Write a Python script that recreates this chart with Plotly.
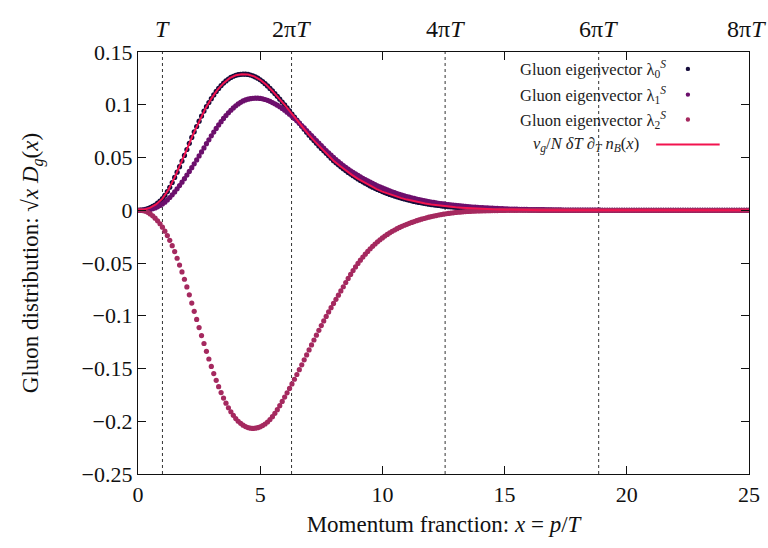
import numpy as np
import plotly.graph_objects as go

# sampling grid of the eigenvector points (x = p/T, step 0.1 from 0 to 25)
x_pts = np.round(np.arange(251) * 0.1, 1)

# Gluon eigenvector lambda_0^S
lam0 = [
    0.0000, 0.0001, 0.0004, 0.0009, 0.0016, 0.0025, 0.0036, 0.0050, 0.0067, 0.0086,
    0.0110, 0.0141, 0.0177, 0.0218, 0.0263, 0.0311, 0.0361, 0.0413, 0.0466, 0.0520,
    0.0576, 0.0634, 0.0690, 0.0743, 0.0794, 0.0844, 0.0893, 0.0940, 0.0982, 0.1021,
    0.1058, 0.1093, 0.1126, 0.1155, 0.1182, 0.1205, 0.1226, 0.1244, 0.1259, 0.1270,
    0.1279, 0.1285, 0.1288, 0.1290, 0.1290, 0.1287, 0.1282, 0.1274, 0.1264, 0.1252,
    0.1237, 0.1220, 0.1200, 0.1178, 0.1155, 0.1131, 0.1106, 0.1080, 0.1053, 0.1026,
    0.0998, 0.0970, 0.0941, 0.0912, 0.0883, 0.0854, 0.0825, 0.0796, 0.0768, 0.0740,
    0.0712, 0.0686, 0.0660, 0.0635, 0.0610, 0.0586, 0.0563, 0.0540, 0.0517, 0.0494,
    0.0470, 0.0450, 0.0431, 0.0412, 0.0394, 0.0376, 0.0359, 0.0343, 0.0327, 0.0312,
    0.0297, 0.0283, 0.0269, 0.0256, 0.0243, 0.0231, 0.0219, 0.0208, 0.0197, 0.0187,
    0.0177, 0.0168, 0.0159, 0.0150, 0.0142, 0.0134, 0.0127, 0.0120, 0.0113, 0.0107,
    0.0101, 0.0095, 0.0089, 0.0084, 0.0079, 0.0074, 0.0070, 0.0066, 0.0062, 0.0058,
    0.0054, 0.0051, 0.0048, 0.0045, 0.0042, 0.0039, 0.0037, 0.0034, 0.0032, 0.0030,
    0.0028, 0.0026, 0.0024, 0.0023, 0.0021, 0.0020, 0.0018, 0.0017, 0.0016, 0.0015,
    0.0014, 0.0013, 0.0012, 0.0011, 0.0010, 0.0009, 0.0009, 0.0008, 0.0007, 0.0007,
    0.0006, 0.0006, 0.0005, 0.0005, 0.0004, 0.0004, 0.0004, 0.0003, 0.0003, 0.0003,
    0.0002, 0.0002, 0.0002, 0.0002, 0.0001, 0.0001, 0.0001, 0.0001, 0.0001, 0.0001,
    0, 0, 0, 0, 0, 0, 0, 0, 0, 0,
    0, 0, 0, 0, 0, 0, 0, 0, 0, 0,
    0, 0, 0, 0, 0, 0, 0, 0, 0, 0,
    0, 0, 0, 0, 0, 0, 0, 0, 0, 0,
    0, 0, 0, 0, 0, 0, 0, 0, 0, 0,
    0, 0, 0, 0, 0, 0, 0, 0, 0, 0,
    0, 0, 0, 0, 0, 0, 0, 0, 0, 0,
    0, 0, 0, 0, 0, 0, 0, 0, 0, 0,
    0,
]

# Gluon eigenvector lambda_1^S
lam1 = [
    0.0000, 0.0000, 0.0001, 0.0002, 0.0004, 0.0008, 0.0014, 0.0022, 0.0032, 0.0045,
    0.0060, 0.0077, 0.0098, 0.0121, 0.0146, 0.0174, 0.0203, 0.0234, 0.0266, 0.0299,
    0.0333, 0.0368, 0.0404, 0.0440, 0.0477, 0.0515, 0.0553, 0.0591, 0.0631, 0.0668,
    0.0705, 0.0741, 0.0776, 0.0809, 0.0840, 0.0870, 0.0898, 0.0924, 0.0948, 0.0970,
    0.0990, 0.1008, 0.1023, 0.1036, 0.1046, 0.1053, 0.1058, 0.1061, 0.1062, 0.1062,
    0.1060, 0.1056, 0.1050, 0.1042, 0.1032, 0.1021, 0.1009, 0.0996, 0.0981, 0.0965,
    0.0948, 0.0930, 0.0911, 0.0891, 0.0870, 0.0848, 0.0826, 0.0803, 0.0780, 0.0756,
    0.0732, 0.0708, 0.0684, 0.0660, 0.0636, 0.0612, 0.0589, 0.0566, 0.0544, 0.0522,
    0.0501, 0.0481, 0.0461, 0.0442, 0.0424, 0.0407, 0.0390, 0.0374, 0.0359, 0.0344,
    0.0330, 0.0316, 0.0303, 0.0290, 0.0278, 0.0266, 0.0254, 0.0243, 0.0232, 0.0222,
    0.0212, 0.0202, 0.0193, 0.0184, 0.0175, 0.0167, 0.0159, 0.0151, 0.0144, 0.0137,
    0.0130, 0.0124, 0.0118, 0.0112, 0.0106, 0.0101, 0.0096, 0.0091, 0.0086, 0.0082,
    0.0078, 0.0074, 0.0070, 0.0066, 0.0063, 0.0060, 0.0057, 0.0054, 0.0051, 0.0048,
    0.0046, 0.0043, 0.0041, 0.0039, 0.0037, 0.0035, 0.0033, 0.0031, 0.0029, 0.0028,
    0.0026, 0.0025, 0.0023, 0.0022, 0.0021, 0.0020, 0.0018, 0.0017, 0.0016, 0.0015,
    0.0014, 0.0013, 0.0012, 0.0011, 0.0011, 0.0010, 0.0009, 0.0009, 0.0008, 0.0008,
    0.0007, 0.0007, 0.0006, 0.0006, 0.0005, 0.0005, 0.0005, 0.0004, 0.0004, 0.0004,
    0.0003, 0.0003, 0.0003, 0.0003, 0.0002, 0.0002, 0.0002, 0.0002, 0.0002, 0.0002,
    0.0001, 0.0001, 0.0001, 0.0001, 0.0001, 0.0001, 0.0001, 0.0001, 0.0001, 0.0001,
    0, 0, 0, 0, 0, 0, 0, 0, 0, 0,
    0, 0, 0, 0, 0, 0, 0, 0, 0, 0,
    0, 0, 0, 0, 0, 0, 0, 0, 0, 0,
    0, 0, 0, 0, 0, 0, 0, 0, 0, 0,
    0, 0, 0, 0, 0, 0, 0, 0, 0, 0,
    0, 0, 0, 0, 0, 0, 0, 0, 0, 0,
    0,
]

# Gluon eigenvector lambda_2^S
lam2 = [
    0.0000, 0.0000, -0.0003, -0.0009, -0.0020, -0.0035, -0.0053, -0.0075, -0.0100, -0.0128,
    -0.0160, -0.0198, -0.0240, -0.0285, -0.0336, -0.0392, -0.0455, -0.0520, -0.0585, -0.0654,
    -0.0727, -0.0802, -0.0880, -0.0958, -0.1035, -0.1112, -0.1188, -0.1263, -0.1337, -0.1410,
    -0.1480, -0.1548, -0.1612, -0.1672, -0.1728, -0.1780, -0.1829, -0.1872, -0.1910, -0.1944,
    -0.1975, -0.2000, -0.2020, -0.2037, -0.2050, -0.2060, -0.2066, -0.2068, -0.2066, -0.2061,
    -0.2053, -0.2041, -0.2026, -0.2007, -0.1984, -0.1957, -0.1925, -0.1890, -0.1852, -0.1812,
    -0.1771, -0.1731, -0.1689, -0.1646, -0.1602, -0.1557, -0.1511, -0.1465, -0.1418, -0.1371,
    -0.1324, -0.1277, -0.1230, -0.1184, -0.1138, -0.1093, -0.1049, -0.1006, -0.0964, -0.0923,
    -0.0883, -0.0844, -0.0805, -0.0765, -0.0725, -0.0685, -0.0646, -0.0608, -0.0572, -0.0537,
    -0.0504, -0.0473, -0.0444, -0.0416, -0.0390, -0.0365, -0.0342, -0.0320, -0.0299, -0.0280,
    -0.0262, -0.0245, -0.0229, -0.0214, -0.0200, -0.0187, -0.0175, -0.0163, -0.0152, -0.0142,
    -0.0133, -0.0124, -0.0115, -0.0107, -0.0099, -0.0092, -0.0085, -0.0078, -0.0072, -0.0066,
    -0.0060, -0.0055, -0.0050, -0.0045, -0.0041, -0.0037, -0.0033, -0.0030, -0.0027, -0.0024,
    -0.0021, -0.0019, -0.0017, -0.0015, -0.0013, -0.0011, -0.0010, -0.0009, -0.0008, -0.0007,
    -0.0006, -0.0005, -0.0005, -0.0004, -0.0004, -0.0003, -0.0003, -0.0003, -0.0002, -0.0002,
    -0.0002, -0.0001, -0.0001, -0.0001, -0.0001, -0.0001, 0, 0, 0, 0,
    0, 0, 0, 0, 0, 0, 0, 0, 0, 0,
    0, 0, 0, 0, 0, 0, 0, 0, 0, 0,
    0, 0, 0, 0, 0, 0, 0, 0, 0, 0,
    0, 0, 0, 0, 0, 0, 0, 0, 0, 0,
    0, 0, 0, 0, 0, 0, 0, 0, 0, 0,
    0, 0, 0, 0, 0, 0, 0, 0, 0, 0,
    0, 0, 0, 0, 0, 0, 0, 0, 0, 0,
    0, 0, 0, 0, 0, 0, 0, 0, 0, 0,
    0, 0, 0, 0, 0, 0, 0, 0, 0, 0,
    0,
]

# thermal reference curve (nu_g/N) dT d_T n_B(x), sampled every 0.25
x_line = np.arange(101) * 0.25
thermal = [
    0.0000, 0.0006, 0.0025, 0.0058, 0.0110, 0.0197, 0.0311, 0.0439, 0.0576, 0.0717,
    0.0844, 0.0961, 0.1058, 0.1141, 0.1205, 0.1252, 0.1279, 0.1289, 0.1287, 0.1269,
    0.1237, 0.1189, 0.1131, 0.1067, 0.0998, 0.0927, 0.0854, 0.0782, 0.0712, 0.0648,
    0.0586, 0.0529, 0.0470, 0.0422, 0.0376, 0.0335, 0.0297, 0.0263, 0.0231, 0.0203,
    0.0177, 0.0155, 0.0134, 0.0117, 0.0101, 0.0087, 0.0074, 0.0064, 0.0054, 0.0046,
    0.0039, 0.0033, 0.0028, 0.0024, 0.0020, 0.0016, 0.0014, 0.0011, 0.0009, 0.0008,
    0.0006, 0.0005, 0.0004, 0.0003, 0.0002, 0, 0, 0, 0, 0,
    0, 0, 0, 0, 0, 0, 0, 0, 0, 0,
    0, 0, 0, 0, 0, 0, 0, 0, 0, 0,
    0, 0, 0, 0, 0, 0, 0, 0, 0, 0,
    0,
]

series_names = [
    "Gluon eigenvector λ<sub>0</sub><sup><i>S</i></sup>",
    "Gluon eigenvector λ<sub>1</sub><sup><i>S</i></sup>",
    "Gluon eigenvector λ<sub>2</sub><sup><i>S</i></sup>",
]
line_name = ("<i>ν<sub>g</sub></i>/<i>N</i> <i>δT</i> ∂<sub><i>T</i></sub> "
             "<i>n<sub>B</sub></i>(<i>x</i>)")
series_colors = ["#160d3c", "#6c0f6c", "#a5295f"]
line_color = "#f2134f"

x_range = [0, 25]
x_ticks = [0, 5, 10, 15, 20, 25]
y_ticks = [0.15, 0.1, 0.05, 0, -0.05, -0.1, -0.15, -0.2, -0.25]
y_ticktext = ["0.15", "0.1", "0.05", "0", "−0.05", "−0.1", "−0.15", "−0.2", "−0.25"]
top_ticks = [1, 2 * np.pi, 4 * np.pi, 6 * np.pi, 8 * np.pi]
top_labels = ["<i>T</i>", "2π<i>T</i>", "4π<i>T</i>", "6π<i>T</i>", "8π<i>T</i>"]

FONT = "Liberation Serif"
INK = "#111111"

fig = go.Figure()
for ys, color in zip([lam0, lam1, lam2], series_colors):
    fig.add_trace(go.Scatter(
        x=x_pts, y=ys, mode="markers",
        marker=dict(size=5.2, color=color, line=dict(width=0)),
        showlegend=False, cliponaxis=True,
    ))
fig.add_trace(go.Scatter(
    x=x_line, y=thermal, mode="lines",
    line=dict(color=line_color, width=2),
    showlegend=False,
))

# dotted guides at multiples of the temperature
shapes = []
for xv in top_ticks:
    if xv < x_range[1]:
        shapes.append(dict(type="line", xref="x", yref="paper", x0=xv, x1=xv,
                           y0=0, y1=1, line=dict(color="#333333", width=1, dash="dot"),
                           layer="below"))

# key in the upper right corner: text on the left, sample on the right
key_rows_y = [0.960, 0.899, 0.840]
key_dot_x = 0.900
annotations = []
for name, color, yk in zip(series_names, series_colors, key_rows_y):
    annotations.append(dict(xref="paper", yref="paper", x=0.868, y=yk,
                            xanchor="right", yanchor="middle", showarrow=False,
                            text=name, font=dict(family=FONT, size=16.5, color="#222")))
    shapes.append(dict(type="circle", xref="paper", yref="paper",
                       xsizemode="pixel", ysizemode="pixel",
                       xanchor=key_dot_x, yanchor=yk, x0=-2.2, x1=2.2, y0=-2.2, y1=2.2,
                       fillcolor=color, line=dict(width=0)))
annotations.append(dict(xref="paper", yref="paper", x=0.824, y=0.781,
                        xanchor="right", yanchor="middle", showarrow=False,
                        text=line_name, font=dict(family=FONT, size=16.5, color="#222")))
shapes.append(dict(type="line", xref="paper", yref="paper", x0=0.848, x1=0.952,
                   y0=0.781, y1=0.781, line=dict(color=line_color, width=2)))

# top axis labels in units of T (placed in paper units so 8πT may sit past the edge)
for i, (xv, lab) in enumerate(zip(top_ticks, top_labels)):
    annotations.append(dict(xref="paper", yref="paper",
                            x=(xv - x_range[0]) / (x_range[1] - x_range[0]), y=1,
                            yanchor="bottom", xanchor="center", yshift=8,
                            xshift=-6 if i == len(top_ticks) - 1 else 0,
                            showarrow=False, text=lab,
                            font=dict(family=FONT, size=24, color=INK)))

axis_common = dict(showline=True, linecolor=INK, linewidth=1.2, mirror="allticks",
                   ticks="inside", ticklen=8, tickwidth=1, tickcolor=INK,
                   showgrid=False, zeroline=False,
                   tickfont=dict(family=FONT, size=22, color=INK))

fig.update_layout(
    width=768, height=548,
    margin=dict(l=138, r=19, t=52, b=74, autoexpand=False),
    paper_bgcolor="white", plot_bgcolor="white",
    xaxis=dict(range=x_range, tickvals=x_ticks,
               title=dict(text="Momentum franction: <i>x</i> = <i>p</i>/<i>T</i>",
                          font=dict(family=FONT, size=23, color=INK), standoff=10),
               **axis_common),
    yaxis=dict(range=[-0.25, 0.15], tickvals=y_ticks, ticktext=y_ticktext,
               title=dict(text="Gluon distribution: √<i>x</i> <i>D<sub>g</sub></i>(<i>x</i>)",
                          font=dict(family=FONT, size=23, color=INK), standoff=36),
               **axis_common),
    shapes=shapes,
    annotations=annotations,
)

fig.write_html("out.html")
